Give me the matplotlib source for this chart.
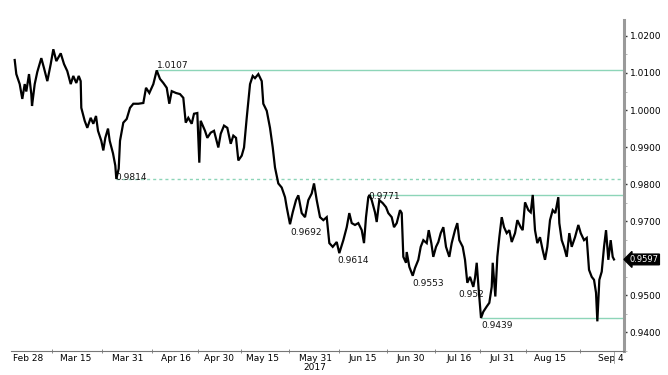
import numpy as np
import matplotlib
matplotlib.use("Agg")
import matplotlib.pyplot as plt
import matplotlib.transforms as mtransforms

plt.rcParams['font.family'] = ['Liberation Sans Narrow', 'DejaVu Sans']

# trading days since 2017-02-28 (weekends removed) and price
tday = [-3.06, -2.69, -1.91, -1.31, -0.76, -0.39, 0.23, 0.76, 0.92, 1.54, 2.14, 3.06, 3.68, 4.44,
        5.22, 5.82, 6.51, 7.52, 8.28, 9.03, 9.82, 10.41, 11.10, 11.66, 12.11, 12.25, 13.03, 13.63,
        14.41, 15.01, 15.63, 16.09, 16.85, 17.31, 17.77, 18.39, 18.78, 19.54, 20.07, 20.30, 20.85,
        21.15, 21.91, 22.69, 23.45, 24.21, 25.36, 26.51, 27.13, 27.89, 28.81, 29.59, 30.34, 31.11,
        31.89, 32.48, 33.04, 34.02, 34.94, 35.70, 36.26, 36.85, 37.63, 38.16, 38.92, 39.38, 39.70,
        40.69, 41.22, 42.00, 42.76, 43.75, 44.30, 45.06, 45.82, 46.60, 47.20, 47.82, 48.35, 49.13,
        49.66, 50.28, 51.04, 51.66, 52.18, 52.95, 53.73, 54.09, 54.88, 55.63, 56.26, 56.78, 57.54,
        58.32, 59.08, 59.47, 60.23, 60.85, 61.61, 62.14, 62.92, 63.68, 64.44, 65.22, 65.75, 66.37,
        67.13, 67.89, 68.67, 69.27, 70.05, 70.97, 71.56, 72.49, 73.27, 73.86, 74.42, 75.17, 75.93,
        76.72, 77.24, 77.70, 78.23, 78.51, 79.01, 79.77, 80.16, 80.76, 81.54, 82.30, 82.83, 83.61,
        84.14, 84.76, 85.52, 85.91, 86.28, 86.90, 87.06, 87.66, 88.44, 88.97, 89.73, 90.28, 90.88,
        91.66, 92.12, 92.72, 93.17, 93.80, 94.33, 94.88, 95.48, 96.09, 96.85, 97.40, 98.16, 98.69,
        99.15, 99.93, 100.46, 100.99, 101.61, 102.37, 102.76, 103.15, 103.61, 104.14, 104.67,
        105.45, 106.05, 106.60, 106.83, 107.43, 107.89, 108.35, 108.90, 109.43, 110.05, 110.65,
        111.20, 111.96, 112.49, 113.26, 113.72, 114.26, 115.02, 115.57, 116.03, 116.55, 117.08,
        117.70, 118.32, 118.85, 119.38, 120.00, 120.62, 121.22, 121.91, 122.14, 122.69, 123.22,
        123.84, 124.44, 124.99, 125.75, 126.51, 127.06, 127.82, 128.44, 128.97, 129.59, 130.12,
        130.58, 130.88, 131.34, 131.89, 132.42, 132.88, 133.41, 133.95, 134.41, 134.71]
price = [1.0135, 1.0097, 1.0070, 1.0030, 1.0070, 1.0050, 1.0097, 1.0043, 1.0011, 1.0070, 1.0103,
         1.0140, 1.0113, 1.0078, 1.0124, 1.0164, 1.0132, 1.0153, 1.0124, 1.0105, 1.0070, 1.0092,
         1.0073, 1.0092, 1.0078, 1.0006, 0.9971, 0.9952, 0.9979, 0.9963, 0.9984, 0.9944, 0.9917,
         0.9891, 0.9925, 0.9950, 0.9917, 0.9883, 0.9850, 0.9814, 0.9842, 0.9917, 0.9966, 0.9976,
         1.0006, 1.0017, 1.0017, 1.0019, 1.0060, 1.0046, 1.0070, 1.0107, 1.0084, 1.0073, 1.0060,
         1.0017, 1.0051, 1.0046, 1.0043, 1.0033, 0.9966, 0.9979, 0.9963, 0.9990, 0.9992, 0.9858,
         0.9971, 0.9944, 0.9925, 0.9939, 0.9944, 0.9899, 0.9936, 0.9958, 0.9952, 0.9909, 0.9931,
         0.9925, 0.9864, 0.9877, 0.9899, 0.9979, 1.0070, 1.0092, 1.0086, 1.0097, 1.0078, 1.0017,
         0.9998, 0.9952, 0.9899, 0.9845, 0.9802, 0.9791, 0.9765, 0.9738, 0.9692, 0.9724, 0.9757,
         0.9770, 0.9722, 0.9711, 0.9757, 0.9775, 0.9802, 0.9757, 0.9711, 0.9703, 0.9711, 0.9641,
         0.9631, 0.9644, 0.9614, 0.9649, 0.9684, 0.9722, 0.9695, 0.9690, 0.9695, 0.9676, 0.9641,
         0.9711, 0.9765, 0.9771, 0.9757, 0.9724, 0.9698, 0.9757, 0.9749, 0.9738, 0.9722, 0.9711,
         0.9684, 0.9695, 0.9730, 0.9722, 0.9604, 0.9588, 0.9617, 0.9577, 0.9553, 0.9574, 0.9596,
         0.9631, 0.9649, 0.9641, 0.9676, 0.9641, 0.9604, 0.9631, 0.9644, 0.9668, 0.9684, 0.9631,
         0.9604, 0.9641, 0.9676, 0.9695, 0.9649, 0.9631, 0.9596, 0.9534, 0.9550, 0.9523, 0.9547,
         0.9588, 0.9515, 0.9439, 0.9456, 0.9470, 0.9480, 0.9523, 0.9588, 0.9497, 0.9604, 0.9657,
         0.9711, 0.9684, 0.9668, 0.9676, 0.9644, 0.9668, 0.9703, 0.9684, 0.9676, 0.9751, 0.9730,
         0.9724, 0.9771, 0.9676, 0.9641, 0.9657, 0.9622, 0.9596, 0.9631, 0.9703, 0.9730, 0.9722,
         0.9765, 0.9695, 0.9649, 0.9631, 0.9604, 0.9668, 0.9631, 0.9657, 0.9690, 0.9668, 0.9649,
         0.9655, 0.9569, 0.9550, 0.9542, 0.9507, 0.9430, 0.9542, 0.9564, 0.9631, 0.9676, 0.9596,
         0.9649, 0.9604, 0.9597]

# support / resistance levels and where they start
levels = [1.0107, 0.9814, 0.9771, 0.9439]
level_start = [29.59, 20.30, 78.51, 104.14]
level_dashed = [False, True, False, False]

# labelled turning points (the 0.9523 tag is cut to 0.952 in the chart)
notes_t = [29.59, 20.30, 60.23, 71.56, 78.51, 88.44, 102.37, 104.14]
notes_p = [1.0107, 0.9814, 0.9692, 0.9614, 0.9771, 0.9553, 0.9523, 0.9439]
notes_txt = ['1.0107', '0.9814', '0.9692', '0.9614', '0.9771', '0.9553', '0.952', '0.9439']

tick_dates = ['2017-02-28', '2017-03-15', '2017-03-31', '2017-04-16', '2017-04-30', '2017-05-15',
              '2017-05-31', '2017-06-15', '2017-06-30', '2017-07-16', '2017-07-31', '2017-08-15',
              '2017-09-04']
tick_labels = ['Feb 28', 'Mar 15', 'Mar 31', 'Apr 16', 'Apr 30', 'May 15', 'May 31\n2017',
               'Jun 15', 'Jun 30', 'Jul 16', 'Jul 31', 'Aug 15', 'Sep 4']
last_price = 0.9597

green = '#8dd5b8'

fig = plt.figure(figsize=(6.68, 3.75), dpi=100)
ax = fig.add_axes([11/668, 24/375, 613/668, 331/375])

for lv, st, dsh in zip(levels, level_start, level_dashed):
    ax.hlines(lv, st, 137.01, color=green, lw=1.0,
              linestyles=(0, (2.2, 2.2)) if dsh else 'solid', zorder=1)

ax.plot(tday, price, color='black', lw=1.6, zorder=3, solid_joinstyle='miter')

# annotations
offs = {'1.0107': (0, 0.5, 'bottom'), '0.9814': (-1, 1, 'center'), '0.9771': (-1, -0.8, 'center'),
        '0.9692': (0, -2.5, 'top'), '0.9614': (-1.5, -2, 'top'), '0.9553': (0, -2, 'top'),
        '0.952': (-11, -2, 'top'), '0.9439': (0.5, -2.5, 'top')}
for t, p, s in zip(notes_t, notes_p, notes_txt):
    dx, dy, va = offs[s]
    ax.annotate(s, (t, p), xytext=(dx, dy), textcoords='offset points', ha='left', va=va,
                fontsize=6.5, color='#111111', zorder=2)

ax.set_xlim(-3.91, 137.01)
ax.set_ylim(0.93517, 1.02429)

# x axis: trading-day positions of the date labels
xt = np.busday_count('2017-02-28', np.array(tick_dates, dtype='datetime64[D]'))
ax.set_xticks(xt)
ax.set_xticklabels(tick_labels, fontsize=6.5, linespacing=1.0)
ax.set_xticks((xt[:-1] + xt[1:]) / 2, minor=True)
ax.tick_params(axis='x', which='major', length=0, pad=2)
ax.tick_params(axis='x', which='minor', length=3, direction='inout', color='#777777', width=0.6)

# y axis on the right
yt = np.round(np.arange(0.94, 1.0201, 0.01), 4)
ax.yaxis.tick_right()
ax.set_yticks(yt)
ax.set_yticklabels(['' if abs(v - 0.96) < 1e-6 else '%.4f' % v for v in yt], fontsize=6.5)
ax.set_yticks(np.round(np.arange(0.935, 1.025, 0.01), 4), minor=True)
ax.tick_params(axis='y', which='major', length=2.5, width=1.0, color='#333333', pad=1.5)
ax.tick_params(axis='y', which='minor', length=2, width=0.6, color='#aaaaaa')

for sp in ['left', 'top']:
    ax.spines[sp].set_visible(False)
ax.spines['right'].set_color('#9a9a9a')
ax.spines['right'].set_linewidth(2.2)
ax.spines['bottom'].set_color('#777777')
ax.spines['bottom'].set_linewidth(0.8)

# last price tag
trans = mtransforms.blended_transform_factory(ax.transAxes, ax.transData)
ax.annotate('%.4f' % last_price, (1.0, last_price), xycoords=trans, xytext=(4, 0),
            textcoords='offset points', ha='left', va='center', fontsize=6, color='white',
            annotation_clip=False,
            bbox=dict(boxstyle='larrow,pad=0.1', fc='black', ec='black'))
ax.axvline(tday[-1], ymin=-0.036, ymax=0, color='#999999', lw=0.6, clip_on=False)

fig.savefig('out.png', dpi=100)
